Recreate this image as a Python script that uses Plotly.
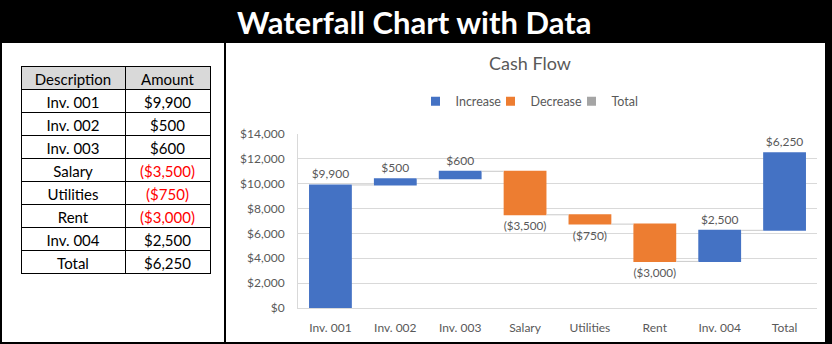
import plotly.graph_objects as go

# ---- data ----
categories = ["Inv. 001", "Inv. 002", "Inv. 003", "Salary", "Utilities", "Rent", "Inv. 004", "Total"]
amounts = [9900, 500, 600, -3500, -750, -3000, 2500, 6250]
y_ticks = [0, 2000, 4000, 6000, 8000, 10000, 12000, 14000]
legend_names = ["Increase", "Decrease", "Total"]

BLUE, ORANGE, GRAY = "#4472C4", "#ED7D31", "#A5A5A5"
TEXT_GRAY = "#595959"
GRID = "#D9D9D9"

W, H = 832, 344


def fx(px):
    return px / W


def fy(py):
    return 1 - py / H


def money(v):
    return f"${v:,}" if v >= 0 else f"(${-v:,})"


labels = [money(v) for v in amounts]

fig = go.Figure()

# waterfall of the cash flow; every step (including the closing one) stacks on the running sum
fig.add_trace(go.Waterfall(
    x=categories,
    y=amounts,
    measure=["relative"] * len(amounts),
    text=labels,
    textposition="outside",
    textfont=dict(family="Lato", size=12, color=TEXT_GRAY),
    increasing=dict(marker=dict(color=BLUE)),
    decreasing=dict(marker=dict(color=ORANGE)),
    totals=dict(marker=dict(color=GRAY)),
    connector=dict(mode="between", line=dict(color="#C9C9C9", width=1)),
    cliponaxis=False,
    showlegend=False,
    hoverinfo="skip",
))

# legend keys
for name, col in zip(legend_names, [BLUE, ORANGE, GRAY]):
    fig.add_trace(go.Scatter(
        x=[None], y=[None], mode="markers", name=name,
        marker=dict(symbol="square", size=9, color=col),
        legendwidth={"Increase": 30, "Decrease": 36, "Total": 30}[name],
    ))

# data table on the left
desc_col = ["Inv. 001", "Inv. 002", "Inv. 003", "Salary", "Utilities", "Rent", "Inv. 004", "Total"]
amt_colors = ["#FF0000" if v < 0 else "black" for v in amounts]
fig.add_trace(go.Table(
    domain=dict(x=[fx(21), fx(210)], y=[fy(290), fy(66)]),
    columnwidth=[104, 85],
    header=dict(
        values=["Description", "Amount"],
        fill_color="#D9D9D9",
        line=dict(color="black", width=1),
        font=dict(family="Lato", size=15, color="black"),
        align="center",
        height=23,
    ),
    cells=dict(
        values=[desc_col, labels],
        fill_color="white",
        line=dict(color="black", width=1),
        font=dict(family="Lato", size=15, color=[["black"] * len(desc_col), amt_colors]),
        align="center",
        height=23,
    ),
))

# frame: title bar, outer border and the divider between table and chart
frame = [
    (0, 0, W, 43),
    (0, 0, 2, H),
    (825, 0, W, H),
    (0, 342, W, H),
    (224, 43, 226, H),
]
shapes = [dict(type="rect", xref="paper", yref="paper",
               x0=fx(a), x1=fx(c), y0=fy(d), y1=fy(b),
               fillcolor="black", line=dict(width=0), layer="above")
          for a, b, c, d in frame]

annotations = [
    dict(text="<b>Waterfall Chart with Data</b>", x=fx(414), y=fy(21.5), xref="paper", yref="paper",
         xanchor="center", yanchor="middle", showarrow=False,
         font=dict(family="Lato", size=31, color="white")),
    dict(text="Cash Flow", x=fx(530), y=fy(63), xref="paper", yref="paper",
         xanchor="center", yanchor="middle", showarrow=False,
         font=dict(family="Lato", size=18, color=TEXT_GRAY)),
]

fig.update_layout(
    width=W, height=H,
    margin=dict(l=0, r=0, t=0, b=0),
    paper_bgcolor="white", plot_bgcolor="white",
    font=dict(family="Lato", size=12, color=TEXT_GRAY),
    shapes=shapes, annotations=annotations,
    waterfallgap=0.34,
    showlegend=True,
    legend=dict(orientation="h", x=fx(531), y=fy(101.5), xanchor="center", yanchor="middle",
                font=dict(family="Lato", size=12.5, color=TEXT_GRAY), bgcolor="rgba(0,0,0,0)",
                itemclick=False, itemdoubleclick=False),
    xaxis=dict(domain=[fx(298), fx(817)], showgrid=False, showline=True, linecolor=GRID, linewidth=1,
               ticks="", ticklabelstandoff=9, automargin=False,
               tickfont=dict(family="Lato", size=12, color=TEXT_GRAY)),
    yaxis=dict(domain=[fy(308), fy(134)], range=[0, 14000],
               tickmode="array", tickvals=y_ticks, ticktext=[money(v) for v in y_ticks],
               showgrid=True, gridcolor=GRID, gridwidth=1,
               zeroline=False, showline=True, linecolor=GRID, linewidth=1,
               ticks="", ticklabelstandoff=10, automargin=False,
               tickfont=dict(family="Lato", size=12, color=TEXT_GRAY)),
)

fig.write_html("out.html")
